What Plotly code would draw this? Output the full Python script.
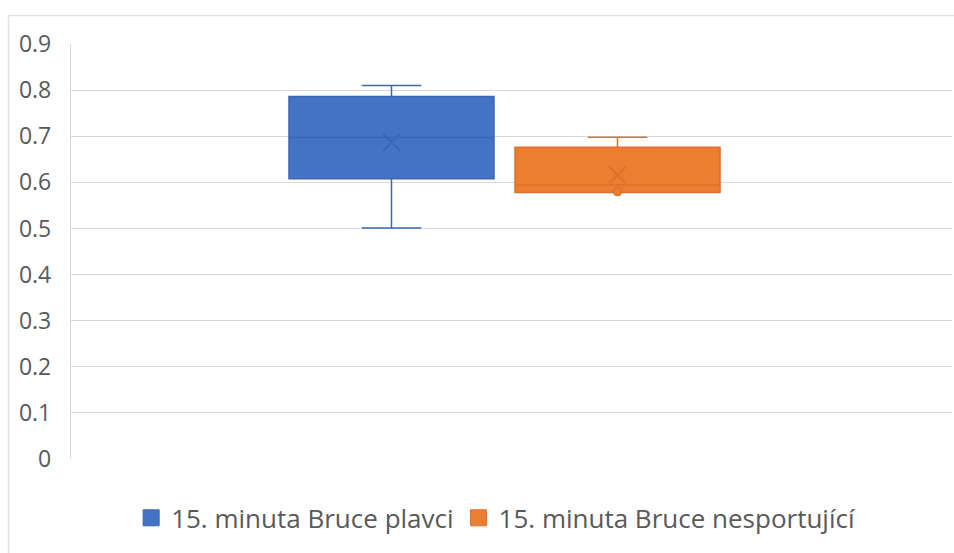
import plotly.graph_objects as go

# Data
series_names = ["15. minuta Bruce plavci", "15. minuta Bruce nesportující"]
positions = [0, 1]
q1_vals = [0.608, 0.578]
median_vals = [0.697, 0.594]
q3_vals = [0.786, 0.676]
lower_vals = [0.501, 0.578]
upper_vals = [0.810, 0.698]
mean_vals = [0.687, 0.616]
outlier_x = [1]
outlier_y = [0.580]

fill_colors = ["#4472C4", "#ED7D31"]
line_colors = ["#3A66B8", "#D9722C"]

y_ticks = [0, 0.1, 0.2, 0.3, 0.4, 0.5, 0.6, 0.7, 0.8, 0.9]
y_tick_text = ["0", "0.1", "0.2", "0.3", "0.4", "0.5", "0.6", "0.7", "0.8", "0.9"]

fig = go.Figure()

for i in range(2):
    fig.add_trace(go.Box(
        x=[positions[i]],
        q1=[q1_vals[i]], median=[median_vals[i]], q3=[q3_vals[i]],
        lowerfence=[lower_vals[i]], upperfence=[upper_vals[i]],
        width=0.907,
        whiskerwidth=0.29,
        fillcolor=fill_colors[i],
        line=dict(color=line_colors[i], width=1.5),
        boxpoints=False,
        showlegend=False,
        hoverinfo="skip",
    ))
    fig.add_trace(go.Scatter(
        x=[positions[i]], y=[mean_vals[i]], mode="markers",
        marker=dict(symbol="x-thin-open", size=17,
                    line=dict(color=line_colors[i], width=2), color=line_colors[i]),
        showlegend=False, hoverinfo="skip",
    ))

fig.add_trace(go.Scatter(
    x=outlier_x, y=outlier_y, mode="markers",
    marker=dict(symbol="circle", size=8, color=fill_colors[1],
                line=dict(color=line_colors[1], width=1.5)),
    showlegend=False, hoverinfo="skip",
))

# Legend entries
for i in range(2):
    fig.add_trace(go.Scatter(
        x=[None], y=[None], mode="markers", name=series_names[i],
        marker=dict(symbol="square", size=19, color=fill_colors[i],
                    line=dict(color=line_colors[i], width=1)),
    ))

fig.update_layout(
    width=954, height=553,
    margin=dict(l=71, r=2, t=44, b=94),
    paper_bgcolor="white", plot_bgcolor="white",
    font=dict(family="Open Sans", color="#595959", size=23),
    showlegend=True,
    legend=dict(orientation="h", x=0.482, xanchor="center", y=-0.142, yanchor="middle",
                font=dict(size=26, color="#595959"), itemwidth=30,
                bgcolor="rgba(0,0,0,0)"),
    xaxis=dict(range=[-1.418, 2.48], showticklabels=False, showgrid=False,
               zeroline=False, showline=False, ticks=""),
    yaxis=dict(range=[0, 0.9], tickvals=y_ticks, ticktext=y_tick_text,
               showgrid=True, gridcolor="#D9D9D9", gridwidth=1.3,
               zeroline=False, showline=True, linecolor="#D9D9D9", linewidth=1.3,
               ticks="", ticklabelstandoff=14),
    shapes=[dict(type="rect", xref="paper", yref="paper",
                 x0=-0.0709, x1=1.05, y0=-0.4, y1=1.0687,
                 line=dict(color="#E3E3E3", width=1.5), layer="below")],
)

fig.write_html(
    "out.html",
    config={"displayModeBar": False},
    post_script="document.body.style.margin='0';document.body.style.overflow='hidden';",
)
